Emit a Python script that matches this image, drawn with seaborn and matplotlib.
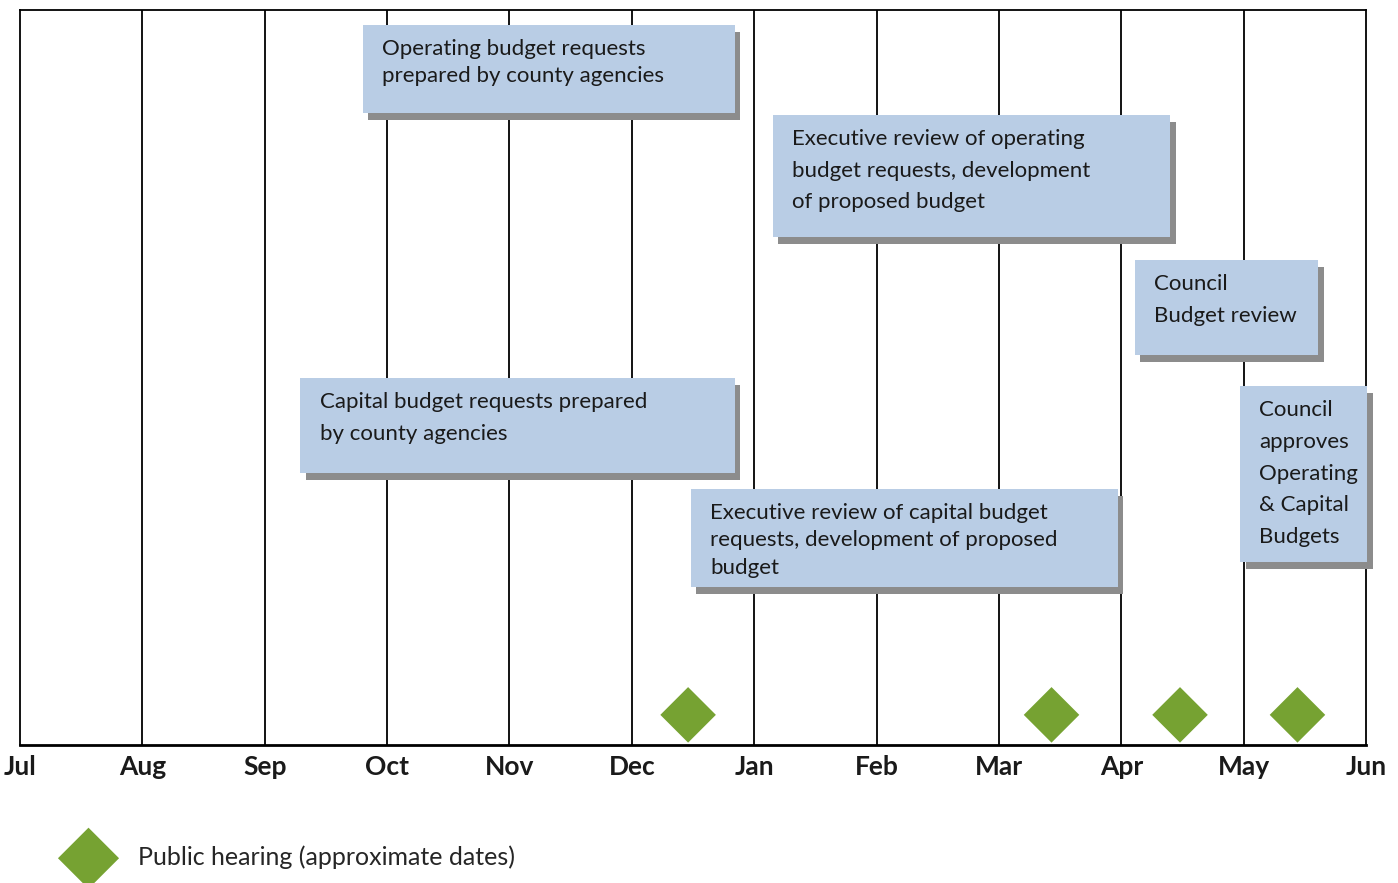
import matplotlib.pyplot as plt
import matplotlib.patheffects as pe
from matplotlib.patches import Rectangle
import pandas as pd
import seaborn as sns

sns.set_theme(style="white")
plt.rcParams['font.family'] = ['Lato', 'DejaVu Sans']

# Months of the fiscal year (one vertical line per month boundary)
months = ["Jul", "Aug", "Sep", "Oct", "Nov", "Dec", "Jan", "Feb", "Mar", "Apr", "May", "Jun"]

# Budget process steps: start/end in months from Jul, low/high as % of chart height
task_labels = ["Operating budget requests\nprepared by county agencies",
               "Executive review of operating\nbudget requests, development\nof proposed budget",
               "Council\nBudget review",
               "Council\napproves\nOperating\n& Capital\nBudgets",
               "Capital budget requests prepared\nby county agencies",
               "Executive review of capital budget\nrequests, development of proposed\nbudget"]
task_start = [2.80, 6.15, 9.11, 9.97, 2.29, 5.48]
task_end = [5.84, 9.40, 10.61, 11.01, 5.84, 8.97]
task_low = [86.0, 69.1, 53.1, 24.9, 37.0, 21.5]
task_high = [98.0, 85.7, 66.0, 48.8, 49.9, 34.8]
task_spacing = [1.47, 1.73, 1.76, 1.73, 1.73, 1.45]

# Public hearings (approximate dates)
hearing_month = [5.46, 8.43, 9.48, 10.44]
hearing_level = [4.1, 4.1, 4.1, 4.1]

box_color = "#b9cde5"
shadow_color = "#8c8c8c"
green = "#76a232"

fig = plt.figure(figsize=(13.98, 8.83), dpi=100)
ax = fig.add_axes([20 / 1398, 138 / 883, 1346 / 1398, 735 / 883])

hearings = pd.DataFrame({"month": hearing_month, "level": hearing_level})
sns.scatterplot(data=hearings, x="month", y="level", marker="D", s=800,
                color=green, edgecolor="none", ax=ax, zorder=5, clip_on=False,
                label="Public hearing (approximate dates)")

for label, x0, x1, y0, y1, ls in zip(task_labels, task_start, task_end,
                                      task_low, task_high, task_spacing):
    rect = Rectangle((x0, y0), x1 - x0, y1 - y0, facecolor=box_color,
                     edgecolor="none", zorder=3, clip_on=False)
    rect.set_path_effects([pe.SimplePatchShadow(offset=(4, -5), shadow_rgbFace=shadow_color, alpha=1.0),
                           pe.Normal()])
    ax.add_patch(rect)
    ax.annotate(label, xy=(x0, y1), xytext=(14, -10), textcoords="offset points",
                ha="left", va="top", fontsize=16, color="#1a1a1a",
                linespacing=ls, zorder=4)

ax.set_xlim(0, len(months) - 1)
ax.set_ylim(0, 100)
ax.set_xticks(range(len(months)))
ax.set_xticklabels(months, fontsize=19, fontweight="bold", color="#1a1a1a")
ax.set_yticks([])
ax.set_xlabel("")
ax.set_ylabel("")
ax.tick_params(axis="x", length=0, pad=7)
for m in range(1, len(months) - 1):
    ax.axvline(m, color="black", lw=1.3, zorder=1)
for side in ["top", "right", "left"]:
    ax.spines[side].set_color("black")
    ax.spines[side].set_linewidth(1.3)
ax.spines["bottom"].set_color("black")
ax.spines["bottom"].set_linewidth(2)

leg = ax.legend(loc="center left", bbox_to_anchor=(51 / 1398, 26 / 883),
                bbox_transform=fig.transFigure, frameon=False, fontsize=18,
                handletextpad=1.0, borderpad=0, markerscale=1.1)

fig.savefig("out.png", dpi=100)
